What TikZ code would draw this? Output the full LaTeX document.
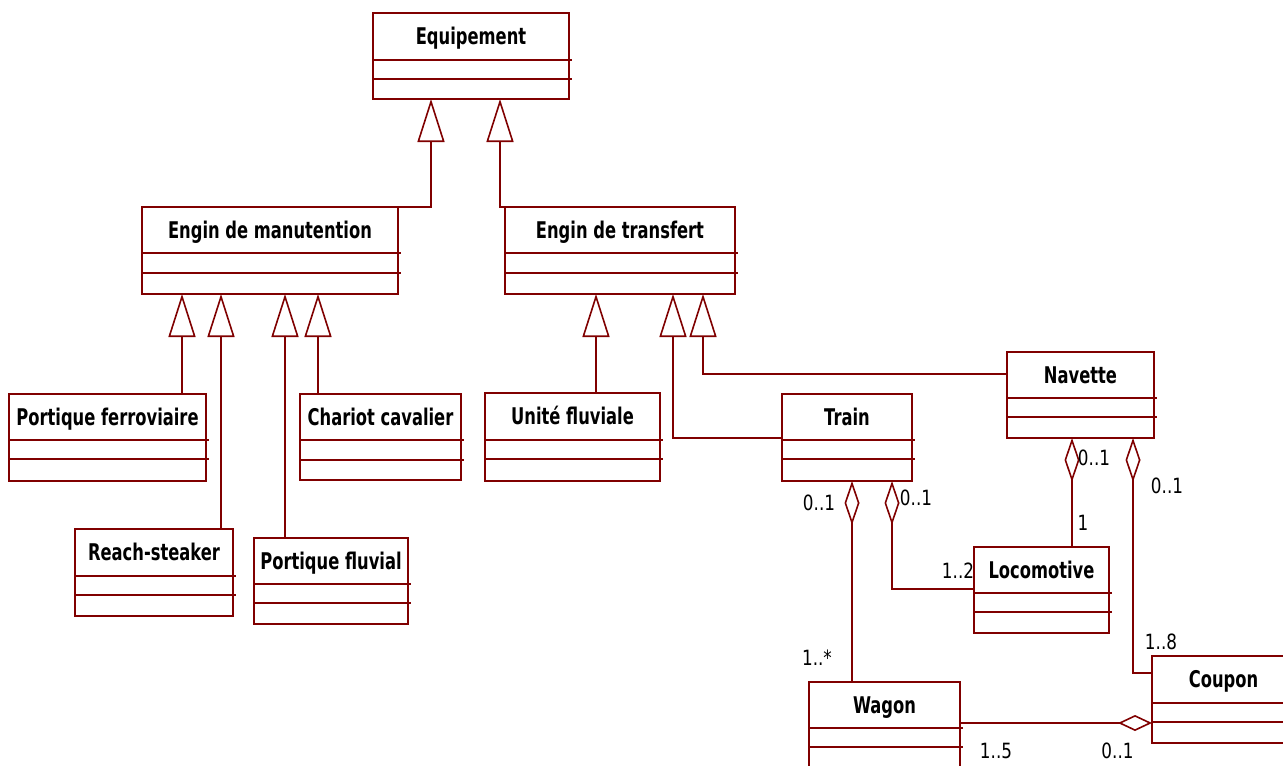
\documentclass[tikz,border=0pt]{standalone}
\usepackage{fontspec}
\setmainfont{DejaVu Sans}
\usetikzlibrary{arrows.meta,fit}
\definecolor{umlred}{RGB}{128,0,0}
\tikzset{
 uml/.style={draw=umlred, line width=1.6pt},
 clsbox/.style={uml, inner sep=0pt, outer sep=0pt, fill=white},
 ttl/.style={font=\fontsize{23}{27}\selectfont\bfseries, xscale=0.71, anchor=base, inner sep=0pt},
 mult/.style={font=\fontsize{21}{25}\selectfont, xscale=0.8, inner sep=0pt, anchor=center},
 gen/.style={uml, -{Triangle[open, length=43pt, width=27pt]}},
 agg/.style={uml, {Diamond[open, length=44pt, width=15pt]}-},
}
\newcommand\umlcls[8]{%
  \node[clsbox, fit={(#2,#3)(#4,#5)}] (#1) {};
  \draw[uml] (#2,#6) -- ({#4+2.5},#6);
  \draw[uml] (#2,#7) -- ({#4+2.5},#7);
  \node[ttl] (#1-name) at ({(#2+#4)/2},{(#3+#6)/2+8.3}) {#8};
}
\begin{document}
\begin{tikzpicture}[x=1pt,y=-1pt]
\useasboundingbox (0,0) rectangle (1283,766);
\clip (0,0) rectangle (1283,766);
\fill[white] (0,0) rectangle (1283,766);

\umlcls{eq}{373}{13}{569}{99}{60}{79}{Equipement}
\umlcls{emt}{142}{207}{398}{294}{253}{273}{Engin de manutention}
\umlcls{etr}{505}{207}{735}{294}{253}{273}{Engin de transfert}
\umlcls{pf}{9}{394}{206}{481}{440}{459}{Portique ferroviaire}
\umlcls{cc}{300}{394}{461}{480}{440}{460}{Chariot cavalier}
\umlcls{rs}{75}{529}{233}{616}{576}{595}{Reach-steaker}
\umlcls{pfl}{254}{538}{408}{624}{584}{603}{Portique fluvial}
\umlcls{uf}{485}{393}{660}{481}{440}{459}{Unité fluviale}
\umlcls{train}{782}{394}{912}{481}{440}{459}{Train}
\umlcls{nav}{1007}{352}{1154}{438}{398}{417}{Navette}
\umlcls{loco}{974}{547}{1109}{633}{593}{612}{Locomotive}
\umlcls{wagon}{809}{682}{960}{795}{728}{747}{Wagon}
\umlcls{coupon}{1152}{656}{1295}{743}{703}{722}{Coupon}

% generalizations
\draw[gen] (emt.north east) -| (431,0|-eq.south);
\draw[gen] (etr.north west) -| (500,0|-eq.south);
\draw[gen] (182,0|-pf.north) -- (182,0|-emt.south);
\draw[gen] (221,0|-rs.north) -- (221,0|-emt.south);
\draw[gen] (285,0|-pfl.north) -- (285,0|-emt.south);
\draw[gen] (318,0|-cc.north) -- (318,0|-emt.south);
\draw[gen] (596,0|-uf.north) -- (596,0|-etr.south);
\draw[gen] ([yshift=-44pt]train.north west) -| (673,0|-etr.south);
\draw[gen] ([yshift=-22pt]nav.north west) -| (703,0|-etr.south);

% aggregations
\draw[agg] (852,0|-train.south) -- (852,0|-wagon.north);
\draw[agg] (892,0|-train.south) |- ([yshift=-42pt]loco.north west);
\draw[agg] (1072,0|-nav.south) -- (1072,0|-loco.north);
\draw[agg] (1133,0|-nav.south) |- ([yshift=-17pt]coupon.north west);
\draw[uml, {Diamond[open, length=34pt, width=16pt]}-] (coupon.west|-0,723) -- (wagon.east|-0,723);

% multiplicities
\node[mult] (m1) at (819,502.5) {0..1};
\node[mult] (m2) at (916,498) {0..1};
\node[mult] (m3) at (958,570.5) {1..2};
\node[mult] (m4) at (817,658) {1..*};
\node[mult] (m5) at (1094,458) {0..1};
\node[mult] (m6) at (1083,523) {1};
\node[mult] (m7) at (1167,486) {0..1};
\node[mult] (m8) at (1161,641.5) {1..8};
\node[mult] (m9) at (996,751) {1..5};
\node[mult] (m10) at (1117.5,751) {0..1};
\end{tikzpicture}
\end{document}
